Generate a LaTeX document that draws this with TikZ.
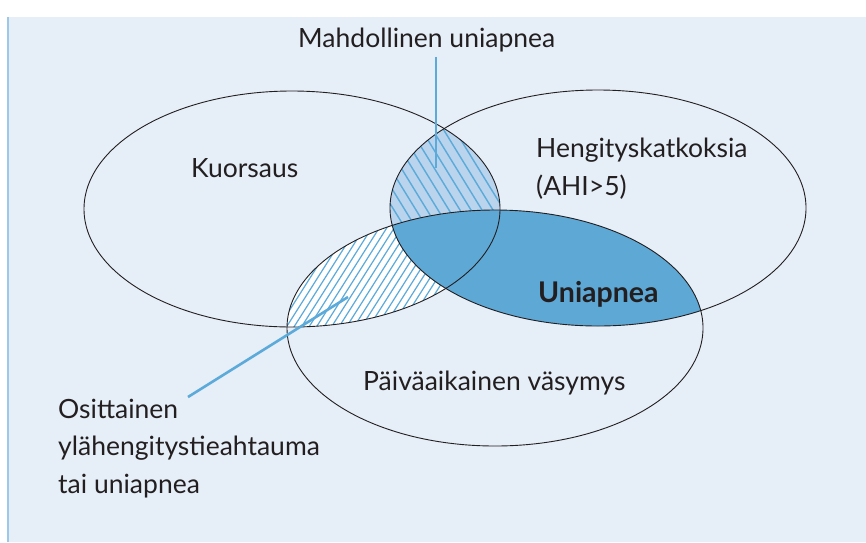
\documentclass[tikz,border=0pt]{standalone}
\usepackage{fontspec}
\setmainfont{Lato}
\usetikzlibrary{positioning}
\definecolor{bgcol}{HTML}{E6EEF8}
\definecolor{uniacol}{HTML}{5EA8D6}
\definecolor{maybecol}{HTML}{B9D4EC}
\definecolor{leadcol}{HTML}{5BAADA}
\definecolor{rulecol}{HTML}{9DC9E8}
\definecolor{inkcol}{HTML}{231F20}
\tikzset{
  setsize/.style={x radius=208pt, y radius=118pt},
  setline/.style={draw=inkcol, line width=0.9pt},
  lbl/.style={text=inkcol, font=\fontsize{26.5}{37.5}\selectfont, inner sep=0pt, align=left}}

\begin{document}
\begin{tikzpicture}[x=1pt, y=-1pt,
      hatch/.style={draw=leadcol, line width=1.4pt},
      lead/.style={draw=leadcol, line width=2.6pt}]
      \useasboundingbox (0,0) rectangle (866,542);
      \fill[bgcol] (8,17) rectangle (866,542);
      \draw[rulecol, line width=2pt] (8,17) -- (8,542);
      \coordinate (kc) at (292,209);
      \coordinate (hc) at (598,208);
      \coordinate (pc) at (495,328);
      % snoring and apnoea, no sleepiness: hatched light blue
      \begin{scope}
        \clip (kc) ellipse [setsize];
        \clip (hc) ellipse [setsize];
        \fill[maybecol] (370,70) rectangle (520,260);
        \foreach \x in {270,281,...,520}
          \draw[hatch] (\x,80) -- ++(120,195);
      \end{scope}
      % snoring and sleepiness: hatched white
      \begin{scope}
        \clip (kc) ellipse [setsize];
        \clip (pc) ellipse [setsize];
        \fill[white] (270,200) rectangle (520,340);
        \foreach \x in {200,207.5,...,480}
          \draw[hatch, line width=1.2pt] (\x,345) -- ++(130,-205);
      \end{scope}
      % apnoea and sleepiness
      \begin{scope}
        \clip (hc) ellipse [setsize];
        \fill[uniacol] (pc) ellipse [setsize];
      \end{scope}
      \draw[setline] (kc) ellipse [setsize];
      \draw[setline] (hc) ellipse [setsize];
      \draw[setline] (pc) ellipse [setsize];
      \node[lbl, anchor=base west] (mahd) at (298,47) {Mahdollinen uniapnea};
      \node[lbl, anchor=base west] (kuor) at (191,177) {Kuorsaus};
      \node[lbl, anchor=base west] (heng) at (536,195) {Hengityskatkoksia\\(AHI>5)};
      \node[lbl, anchor=base west, font=\fontsize{28.5}{37.5}\selectfont\bfseries] (unia) at (538,302) {Uniapnea};
      \node[lbl, anchor=base west] (paiv) at (363,390) {Päiväaikainen väsymys};
      \node[lbl, anchor=base west] (osit) at (58,493) {Osittainen\\ylähengitystieahtauma\\tai uniapnea};
      \coordinate (mtip) at (436,168);
      \coordinate (ofoot) at (188,397);
      \coordinate (otip) at (348,297);
      \draw[lead, shorten <=5pt] (mtip |- mahd.south) -- (mtip);
      \draw[lead] (ofoot) -- (otip);
    \end{tikzpicture}
\end{document}
